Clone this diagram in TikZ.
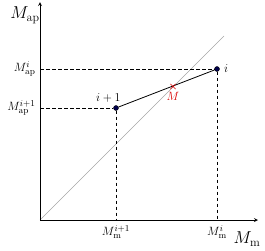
\documentclass[tikz,border=0pt]{standalone}
\usetikzlibrary{positioning, shapes.misc}
\begin{document}
\begin{tikzpicture}[
    x=1pt, y=1pt,
    point/.style={circle, draw, fill=black!70!blue, minimum size=5pt, inner sep=0pt},
    mark cross/.style={cross out, draw=red!85!black, semithick, minimum size=4.5pt, inner sep=0pt},
    guide/.style={dashed, thick, dash pattern=on 3.5pt off 2.5pt},
    axislabel/.style={font=\fontsize{17}{19}\selectfont},
    ticklabel/.style={font=\fontsize{13}{15}\selectfont},
    >=stealth
  ]
  \useasboundingbox (-40,-30) rectangle (225,220);
  \coordinate (O) at (0,0);
  \coordinate (xend) at (218,0);
  \coordinate (yend) at (0,218);
  \coordinate (diag) at (184,184);
  \draw[gray!70, thin] (O) -- (diag);
  \draw[->, thick] (O) -- (xend);
  \draw[->, thick] (O) -- (yend);
  \node[point] (i) at (177,151) {};
  \node[point] (ip) at (76,112) {};
  \coordinate (ix) at (177,0);
  \coordinate (iy) at (0,151);
  \coordinate (ipx) at (76,0);
  \coordinate (ipy) at (0,112);
  \draw[guide] (iy) -- (i) -- (ix);
  \draw[guide] (ipy) -- (ip) -- (ipx);
  \draw[thick] (ip) -- (i);
  \node[mark cross] (M) at (133,133.5) {};
  \node[right=1pt of i, ticklabel] {$i$};
  \node[above left=0pt and -10pt of ip, ticklabel] {$i+1$};
  \node[below=0pt of M, ticklabel, text=red!85!black] {$M$};
  \node[left=1pt of iy, ticklabel] {$M_{\mathrm{ap}}^{i}$};
  \node[left=1pt of ipy, ticklabel] {$M_{\mathrm{ap}}^{i+1}$};
  \node[below=2pt of ipx, ticklabel] {$M_{\mathrm{m}}^{i+1}$};
  \node[below=2pt of ix, ticklabel] {$M_{\mathrm{m}}^{i}$};
  \node[axislabel] at (-15,205) {$M_{\mathrm{ap}}$};
  \node[axislabel] at (207,-19) {$M_{\mathrm{m}}$};
\end{tikzpicture}
\end{document}
